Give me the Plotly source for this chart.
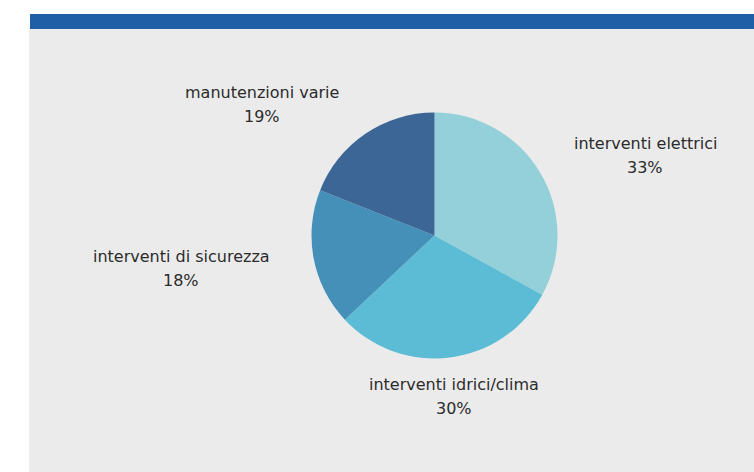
import plotly.graph_objects as go

categories = ["interventi elettrici", "interventi idrici/clima", "interventi di sicurezza", "manutenzioni varie"]
values = [33, 30, 18, 19]
colors = ["#93d0da", "#5dbcd5", "#4490b8", "#3b6696"]

# label anchor positions (page pixels): name line centre
label_pos = [(645, 143), (454, 384), (181, 256), (262, 92)]

W, H = 754, 472
cx, cy, r = 434.5, 235.5, 123


def fx(px):
    return px / W


def fy(py):
    return 1 - py / H


fig = go.Figure()
fig.add_trace(go.Pie(
    labels=categories,
    values=values,
    marker=dict(colors=colors, line=dict(width=0)),
    sort=False,
    direction="clockwise",
    rotation=0,
    textinfo="none",
    hoverinfo="label+percent",
    showlegend=False,
    domain=dict(x=[fx(cx - r), fx(cx + r)], y=[fy(cy + r), fy(cy - r)]),
))

total = sum(values)
annotations = []
for cat, val, (px, py) in zip(categories, values, label_pos):
    pct = f"{round(100 * val / total)}%"
    annotations.append(dict(x=fx(px), y=fy(py), xref="paper", yref="paper", text=cat,
                            showarrow=False, xanchor="center", yanchor="middle",
                            font=dict(family="DejaVu Sans", size=16, color="#2b2b2b")))
    annotations.append(dict(x=fx(px), y=fy(py + 24), xref="paper", yref="paper", text=pct,
                            showarrow=False, xanchor="center", yanchor="middle",
                            font=dict(family="DejaVu Sans", size=16, color="#2b2b2b")))

shapes = [
    dict(type="rect", xref="paper", yref="paper", x0=fx(29), x1=1, y0=0, y1=fy(28),
         fillcolor="#ebebeb", line=dict(width=0), layer="below"),
    dict(type="rect", xref="paper", yref="paper", x0=fx(30), x1=1, y0=fy(29), y1=fy(14),
         fillcolor="#1f5fa6", line=dict(width=0), layer="below"),
]

fig.update_layout(
    width=W, height=H,
    margin=dict(l=0, r=0, t=0, b=0),
    paper_bgcolor="white",
    plot_bgcolor="white",
    shapes=shapes,
    annotations=annotations,
)

fig.write_html(
    "out.html",
    config={"displayModeBar": False},
    post_script="document.body.style.margin='0';document.body.style.overflow='hidden';",
)
